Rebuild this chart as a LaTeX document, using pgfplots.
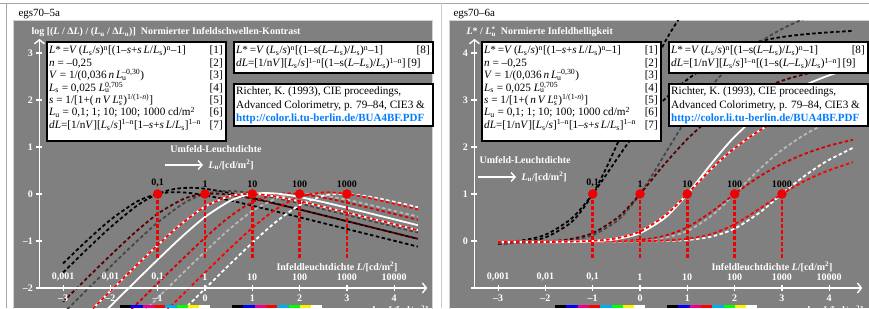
\documentclass[border=0pt]{standalone}
\usepackage{fontspec}
\setmainfont{Liberation Serif}
\usepackage{pgfplots}
\pgfplotsset{compat=1.18}
\usetikzlibrary{arrows.meta}
\definecolor{panel}{RGB}{128,128,128}
\definecolor{mred}{RGB}{85,0,0}
\definecolor{dgray}{RGB}{70,70,70}
\definecolor{lgray}{RGB}{185,185,185}
\definecolor{linkblue}{RGB}{0,125,255}
\definecolor{dotred}{RGB}{240,0,0}
\pgfplotsset{
  dataaxis/.style={x=47.3pt, y=47pt, hide axis, clip=true, anchor=south west},
  frameaxis/.style={x=47.3pt, y=47pt, anchor=south west, clip=false,
    axis lines=left,
    axis line style={white, line width=1.6pt, -{Straight Barb[length=4pt,width=10pt,line width=1.4pt]}},
    tick align=center, major tick length=6pt,
    tick style={white, line width=1.2pt},
    ticklabel style={font=\bfseries\fontsize{10}{12}\selectfont, text=white},
    xtick={-3,...,4}, xticklabels={–3,–2,–1,0,1,2,3,4}},
  dsh/.style={line width=1.8pt, dash pattern=on 3.5pt off 2.5pt, smooth},
  cA01/.style={dsh, black},
  cB01/.style={dsh, black},
  cA1/.style={dsh, dgray},
  cB1/.style={dsh, mred},
  cA10/.style={line width=1.8pt, white, smooth},
  cB10w/.style={line width=1.8pt, white, smooth},
  cB10r/.style={dsh, red},
  cA100/.style={dsh, lgray},
  cB100/.style={dsh, red!85!black},
  cA1000/.style={dsh, white},
  cB1000/.style={dsh, red},
}
\newcommand{\Ls}{\textit{L}\textsubscript{s}}
\newcommand{\Lu}{\textit{L}\textsubscript{u}}
\begin{document}
\begin{tikzpicture}[x=1pt,y=1pt]
\useasboundingbox (0,0) rectangle (869,308);
\clip (0,0) rectangle (869,308);
\fill[white] (0,0) rectangle (869,308);
\draw[gray!70, line width=0.8pt] (0,305) -- (869,305);
\draw[gray!70, line width=0.8pt] (6,0) -- (6,305);
\draw[gray!40, line width=0.8pt] (441,0) -- (441,305);
% panels
\fill[panel] (13,0) rectangle (432,288);
\draw[gray!35, line width=0.8pt] (13,-2) rectangle (432,288);
\fill[panel] (449,0) rectangle (871,288);
\draw[gray!35, line width=0.8pt] (449,-2) rectangle (871,288);
\node[anchor=base west, font=\fontsize{11}{13}\selectfont] at (15,291) {egs70–5a};
\node[anchor=base west, font=\fontsize{11}{13}\selectfont] at (450,291) {egs70–6a};

% ================= LEFT PANEL DATA =================
\begin{axis}[dataaxis, at={(12.962pt,-0.21pt)}, xmin=-4.06, xmax=4.80, ymin=-2.43, ymax=3.70]
\addplot[cA01] coordinates {(-3,-1.670) (-2.5,-1.180) (-2,-0.710) (-1.5,-0.295) (-1.25,-0.128) (-1,0) (-0.75,0.084) (-0.5,0.125) (-0.25,0.131) (0,0.111) (0.5,0.026) (1,-0.085) (1.5,-0.206) (2,-0.329) (2.5,-0.454) (3,-0.579) (3.5,-0.704) (4,-0.829) (4.5,-0.954)};
\addplot[cB01] coordinates {(-3,-1.476) (-2.5,-0.995) (-2,-0.551) (-1.5,-0.197) (-1.25,-0.076) (-1,0) (-0.75,0.035) (-0.5,0.036) (-0.25,0.013) (0,-0.027) (0.5,-0.130) (1,-0.248) (1.5,-0.371) (2,-0.495) (2.5,-0.620) (3,-0.745) (3.5,-0.870) (4,-0.995) (4.5,-1.120)};
\addplot[cA1] coordinates {(-3,-2.540) (-2.5,-2.041) (-2,-1.546) (-1.5,-1.061) (-1,-0.607) (-0.5,-0.230) (-0.25,-0.093) (0,0) (0.25,0.050) (0.5,0.063) (0.75,0.048) (1,0.014) (1.5,-0.085) (2,-0.201) (2.5,-0.323) (3,-0.447) (3.5,-0.572) (4,-0.697) (4.5,-0.822)};
\addplot[cB1] coordinates {(-3,-2.293) (-2.5,-1.796) (-2,-1.306) (-1.5,-0.836) (-1,-0.421) (-0.5,-0.126) (-0.25,-0.041) (0,0) (0.25,0.006) (0.5,-0.014) (1,-0.098) (1.5,-0.210) (2,-0.330) (2.5,-0.454) (3,-0.578) (3.5,-0.703) (4,-0.828) (4.5,-0.953)};
\addplot[cA100] coordinates {(-2,-3.208) (-1.5,-2.709) (-1,-2.210) (-0.5,-1.714) (0,-1.226) (0.5,-0.762) (1,-0.363) (1.5,-0.096) (1.75,-0.028) (2,0) (2.25,-0.004) (2.5,-0.031) (3,-0.123) (3.5,-0.236) (4,-0.358) (4.5,-0.482)};
\addplot[cB100] coordinates {(-2,-2.897) (-1.5,-2.397) (-1,-1.900) (-0.5,-1.408) (0,-0.931) (0.5,-0.500) (1,-0.173) (1.5,-0.010) (1.75,0.010) (2,0) (2.25,-0.030) (2.5,-0.074) (3,-0.182) (3.5,-0.301) (4,-0.425) (4.5,-0.549)};
\addplot[cA1000] coordinates {(-1,-3.011) (-0.5,-2.512) (0,-2.014) (0.5,-1.520) (1,-1.038) (1.5,-0.593) (2,-0.238) (2.5,-0.038) (2.75,-0.002) (3,0) (3.25,-0.023) (3.5,-0.061) (4,-0.165) (4.5,-0.283)};
\addplot[cB1000] coordinates {(-1,-2.666) (-0.5,-2.168) (0,-1.672) (0.5,-1.184) (1,-0.721) (1.5,-0.324) (2,-0.060) (2.5,0.033) (2.75,0.027) (3,0) (3.25,-0.042) (3.5,-0.092) (4,-0.206) (4.5,-0.328)};
\addplot[cA10] coordinates {(-3,-3.386) (-2.5,-2.886) (-2,-2.387) (-1.5,-1.889) (-1,-1.397) (-0.5,-0.920) (0,-0.489) (0.5,-0.162) (0.75,-0.059) (1,0) (1.25,0.020) (1.5,0.010) (1.75,-0.020) (2,-0.064) (2.5,-0.172) (3,-0.291) (3.5,-0.415) (4,-0.539) (4.5,-0.664)};
\addplot[cB10w] coordinates {(-3,-3.063) (-2.5,-2.564) (-2,-2.065) (-1.5,-1.571) (-1,-1.087) (-0.5,-0.637) (0,-0.269) (0.5,-0.052) (0.75,-0.008) (1,0) (1.25,-0.018) (1.5,-0.055) (2,-0.155) (2.5,-0.272) (3,-0.395) (3.5,-0.519) (4,-0.644) (4.5,-0.769)};
\addplot[cB10r] coordinates {(-3,-3.063) (-2.5,-2.564) (-2,-2.065) (-1.5,-1.571) (-1,-1.087) (-0.5,-0.637) (0,-0.269) (0.5,-0.052) (0.75,-0.008) (1,0) (1.25,-0.018) (1.5,-0.055) (2,-0.155) (2.5,-0.272) (3,-0.395) (3.5,-0.519) (4,-0.644) (4.5,-0.769)};
\addplot[dotred, line width=2.6pt, dash pattern=on 4pt off 2pt, unbounded coords=jump] coordinates {(-1,0) (-1,-1.36) (-1,nan) (0,0) (0,-1.36) (0,nan) (1,0) (1,-1.36) (1,nan) (2,0) (2,-1.36) (2,nan) (3,0) (3,-1.36)};
\addplot[only marks, mark=*, mark size=4.5pt, dotred, point meta=explicit symbolic, nodes near coords, nodes near coords style={font=\bfseries\fontsize{10}{12}\selectfont, text=black, anchor=south, yshift=3pt}] coordinates {(-1,0) [{0,1}] (0,0) [1] (1,0) [10] (2,0) [100] (3,0) [1000]};
\end{axis}

% ================= RIGHT PANEL DATA =================
\begin{axis}[dataaxis, at={(448.908pt,-0.21pt)}, xmin=-4.04, xmax=4.84, ymin=-1.43, ymax=4.70]
\addplot[cA01] coordinates {(-3,-0.061) (-2.5,-0.027) (-2,0.076) (-1.5,0.360) (-1.25,0.627) (-1,1) (-0.75,1.476) (-0.5,2.024) (-0.25,2.602) (0,3.171) (0.5,4.184) (0.75,4.612) (1,4.988)};
\addplot[cB01] coordinates {(-3,-0.030) (-2.5,0.012) (-2,0.133) (-1.5,0.436) (-1.25,0.686) (-1,1) (-0.75,1.356) (-0.5,1.727) (-0.25,2.088) (0,2.423) (0.5,2.994) (1,3.436) (1.5,3.770) (2,4.050) (2.5,4.240) (3,4.340) (3.5,4.400) (4,4.440) (4.5,4.470)};
\addplot[cA1] coordinates {(-3,-0.043) (-2.5,-0.039) (-2,-0.027) (-1.5,0.012) (-1,0.124) (-0.5,0.416) (-0.25,0.671) (0,1) (0.25,1.388) (0.5,1.806) (0.75,2.220) (1,2.610) (1.5,3.287) (2,3.812) (2.5,4.210) (3,4.511) (3.5,4.738) (4,4.910)};
\addplot[cB1] coordinates {(-3,-0.031) (-2.5,-0.026) (-2,-0.010) (-1.5,0.036) (-1,0.168) (-0.5,0.477) (-0.25,0.716) (0,1) (0.25,1.305) (0.5,1.613) (1,2.169) (1.5,2.615) (2,2.956) (2.5,3.215) (3,3.409) (3.5,3.554) (4,3.664) (4.5,3.746)};
\addplot[cA100] coordinates {(-3,-0.017) (-2,-0.017) (-1.5,-0.017) (-1,-0.015) (-0.5,-0.009) (0,0.010) (0.5,0.064) (1,0.212) (1.5,0.528) (1.75,0.752) (2,1) (2.25,1.256) (2.5,1.502) (2.75,1.730) (3,1.936) (3.5,2.274) (4,2.533) (4.5,2.728)};
\addplot[cB100] coordinates {(-3,-0.013) (-2,-0.013) (-1.5,-0.012) (-1,-0.009) (-0.5,0.000) (0,0.027) (0.5,0.105) (1,0.291) (1.5,0.613) (1.75,0.805) (2,1) (2.25,1.185) (2.5,1.355) (2.75,1.507) (3,1.642) (3.5,1.862) (4,2.029) (4.5,2.154)};
\addplot[cA1000] coordinates {(-3,-0.012) (-1,-0.011) (-0.5,-0.010) (0,-0.008) (0.5,0.000) (1,0.023) (1.5,0.091) (2,0.263) (2.5,0.584) (2.75,0.787) (3,1) (3.25,1.207) (3.5,1.399) (3.75,1.574) (4,1.728) (4.5,1.982)};
\addplot[cB1000] coordinates {(-3,-0.009) (-1,-0.009) (-0.5,-0.007) (0,-0.003) (0.5,0.009) (1,0.046) (1.5,0.145) (2,0.356) (2.5,0.669) (2.75,0.838) (3,1) (3.25,1.150) (3.5,1.284) (3.75,1.403) (4,1.507) (4.5,1.677)};
\addplot[cA10] coordinates {(-3,-0.027) (-2,-0.025) (-1.5,-0.021) (-1,-0.006) (-0.5,0.039) (0,0.167) (0.5,0.471) (0.75,0.712) (1,1) (1.25,1.316) (1.5,1.635) (1.75,1.939) (2,2.218) (2.5,2.687) (3,3.047) (3.5,3.321) (4,3.526) (4.5,3.680)};
\addplot[cB10w] coordinates {(-3,-0.022) (-2,-0.020) (-1.5,-0.014) (-1,0.003) (-0.5,0.057) (0,0.202) (0.5,0.518) (0.75,0.745) (1,1) (1.25,1.266) (1.5,1.523) (1.75,1.761) (2,1.976) (2.5,2.334) (3,2.607) (3.5,2.812) (4,2.966) (4.5,3.082)};
\addplot[cB10r] coordinates {(-3,-0.022) (-2,-0.020) (-1.5,-0.014) (-1,0.003) (-0.5,0.057) (0,0.202) (0.5,0.518) (0.75,0.745) (1,1) (1.25,1.266) (1.5,1.523) (1.75,1.761) (2,1.976) (2.5,2.334) (3,2.607) (3.5,2.812) (4,2.966) (4.5,3.082)};
\addplot[dotred, line width=2.6pt, dash pattern=on 4pt off 2pt, unbounded coords=jump] coordinates {(-1,1) (-1,-0.36) (-1,nan) (0,1) (0,-0.36) (0,nan) (1,1) (1,-0.36) (1,nan) (2,1) (2,-0.36) (2,nan) (3,1) (3,-0.36)};
\addplot[only marks, mark=*, mark size=4.5pt, dotred, point meta=explicit symbolic, nodes near coords, nodes near coords style={font=\bfseries\fontsize{10}{12}\selectfont, text=black, anchor=south, yshift=3pt}] coordinates {(-1,1) [{0,1}] (0,1) [1] (1,1) [10] (2,1) [100] (3,1) [1000]};
\end{axis}

% ================= FRAME AXES =================
\begin{axis}[frameaxis, at={(39.45pt,20pt)}, xmin=-3.5, xmax=4.7, ymin=-2, ymax=3.3,
  ytick={-2,...,3}, yticklabels={–2,–1,0,1,2,3}]
\end{axis}
\begin{axis}[frameaxis, at={(474.45pt,20pt)}, xmin=-3.5, xmax=4.7, ymin=-1, ymax=4.3,
  ytick={-1,...,4}, yticklabels={,0,1,2,3,4}]
\end{axis}

% upper x labels
\foreach \dx in {0,435}{
  \foreach \lab [count=\i from 0] in {{0,001},{0,01},{0,1},1,10,100,1000,10000}{
    \node[font=\bfseries\fontsize{10}{12}\selectfont, text=white] at (63+\i*47.3+\dx,31) {\lab};
  }
  \node[font=\bfseries\fontsize{10}{12}\selectfont, text=white] at (337+\dx,41) {Infeldleuchtdichte \textit{L}/[cd/m\textsuperscript{2}]};
  \node[font=\bfseries\fontsize{10}{12}\selectfont, text=white, anchor=north east] at (432+\dx,6) {log \textit{L}/[cd/m\textsuperscript{2}]};
  \foreach \c [count=\i from 0] in {black,blue,magenta,red,cyan,green,yellow,white}{
    \fill[\c] (120+\i*11.3+\dx,0) rectangle (131.3+\i*11.3+\dx,3.5);
    \fill[\c] (232+\i*11.3+\dx,0) rectangle (243.3+\i*11.3+\dx,3.5);
  }
}
% titles
\node[anchor=base west, font=\bfseries\fontsize{10}{12}\selectfont, text=white] at (28,273) {log [(\textit{L} / Δ\textit{L}) / (\Lu\ / Δ\Lu)]~~Normierter Infeldschwellen-Kontrast};
\node[anchor=base west, font=\bfseries\fontsize{10}{12}\selectfont, text=white] at (463,273) {\textit{L}* / \textit{L}\rlap{\textsuperscript{*}}\textsubscript{u}~~Normierte Infeldhelligkeit};
% Umfeld
\node[font=\bfseries\fontsize{10}{12}\selectfont, text=white] at (216,159) {Umfeld-Leuchtdichte};
\draw[white, line width=1.6pt, -{Straight Barb[length=4pt,width=9pt,line width=1.4pt]}] (165,143) -- (203,143);
\node[anchor=west, font=\bfseries\fontsize{10}{12}\selectfont, text=white] at (205,143) {\Lu/[cd/m\textsuperscript{2}]};
\node[anchor=west, font=\bfseries\fontsize{10}{12}\selectfont, text=white] at (476,148) {Umfeld-Leuchtdichte};
\draw[white, line width=1.6pt, -{Straight Barb[length=4pt,width=9pt,line width=1.4pt]}] (478,131) -- (516,131);
\node[anchor=west, font=\bfseries\fontsize{10}{12}\selectfont, text=white] at (518,131) {\Lu/[cd/m\textsuperscript{2}]};

% formula boxes
\foreach \dx in {0,435}{
\begin{scope}[xshift=\dx]
\draw[fill=white, line width=2pt] (47,167) rectangle (226,266);
\draw[fill=white, line width=2pt] (234,235) rectangle (433,266);
\draw[fill=white, line width=2pt] (234,182) rectangle (433,224);
\begin{scope}[every node/.style={font=\fontsize{11.2}{12}\selectfont, inner sep=0pt}]
\node[anchor=base west] at (49,254) {\textit{L}*\,=\textit{V}\,(\Ls/\textit{s})\textsuperscript{n}[(1–\textit{s}+\textit{s}\,\textit{L}/\Ls)\textsuperscript{n}–1]};
\node[anchor=base west] at (49,241.6) {\textit{n} = –0,25};
\node[anchor=base west] at (49,229.2) {\textit{V} = 1/(0,036\,\textit{n}\,\textit{L}\rlap{\textsubscript{u}}\textsuperscript{–0,30})};
\node[anchor=base west] at (49,216.8) {\Ls\ = 0,025 \textit{L}\rlap{\textsubscript{u}}\textsuperscript{0,705}};
\node[anchor=base west] at (49,204.4) {\textit{s} = 1/[1+(\,\textit{n}\,\textit{V}\,\textit{L}\rlap{\textsubscript{s}}\textsuperscript{n})\textsuperscript{1/(1-\textit{n})}]};
\node[anchor=base west] at (49,192) {\Lu\ = 0,1; 1; 10; 100; 1000 cd/m\textsuperscript{2}};
\node[anchor=base west] at (49,179.6) {\textit{dL}=[1/n\textit{V}][\Ls/\textit{s}]\textsuperscript{1–n}[1–\textit{s}+\textit{s}\,\textit{L}/\Ls]\textsuperscript{1–n}};
\foreach \k [count=\i from 0] in {1,...,7}{
  \node[anchor=base east] at (223,254-\i*12.4) {[\k]};
}
\node[anchor=base west] at (236,254) {\textit{L}*\,=\textit{V}\,(\Ls/\textit{s})\textsuperscript{n}[(1–s(\textit{L}–\Ls)/\Ls)\textsuperscript{n}–1]};
\node[anchor=base east] at (430,254) {[8]};
\node[anchor=base west] at (236,241) {\textit{dL}=[1/n\textit{V}][\Ls/\textit{s}]\textsuperscript{1–n}[(1–s(\textit{L}–\Ls)/\Ls)\textsuperscript{1–n}]\,[9]};
\node[anchor=base west] at (236,213) {Richter, K. (1993), CIE proceedings,};
\node[anchor=base west] at (236,199.5) {Advanced Colorimetry, p. 79–84, CIE3 \&};
\node[anchor=base west, text=linkblue, font=\bfseries\fontsize{11}{12}\selectfont] at (236,186.5) {http://color.li.tu-berlin.de/BUA4BF.PDF};
\end{scope}
\end{scope}
}
\end{tikzpicture}
\end{document}
